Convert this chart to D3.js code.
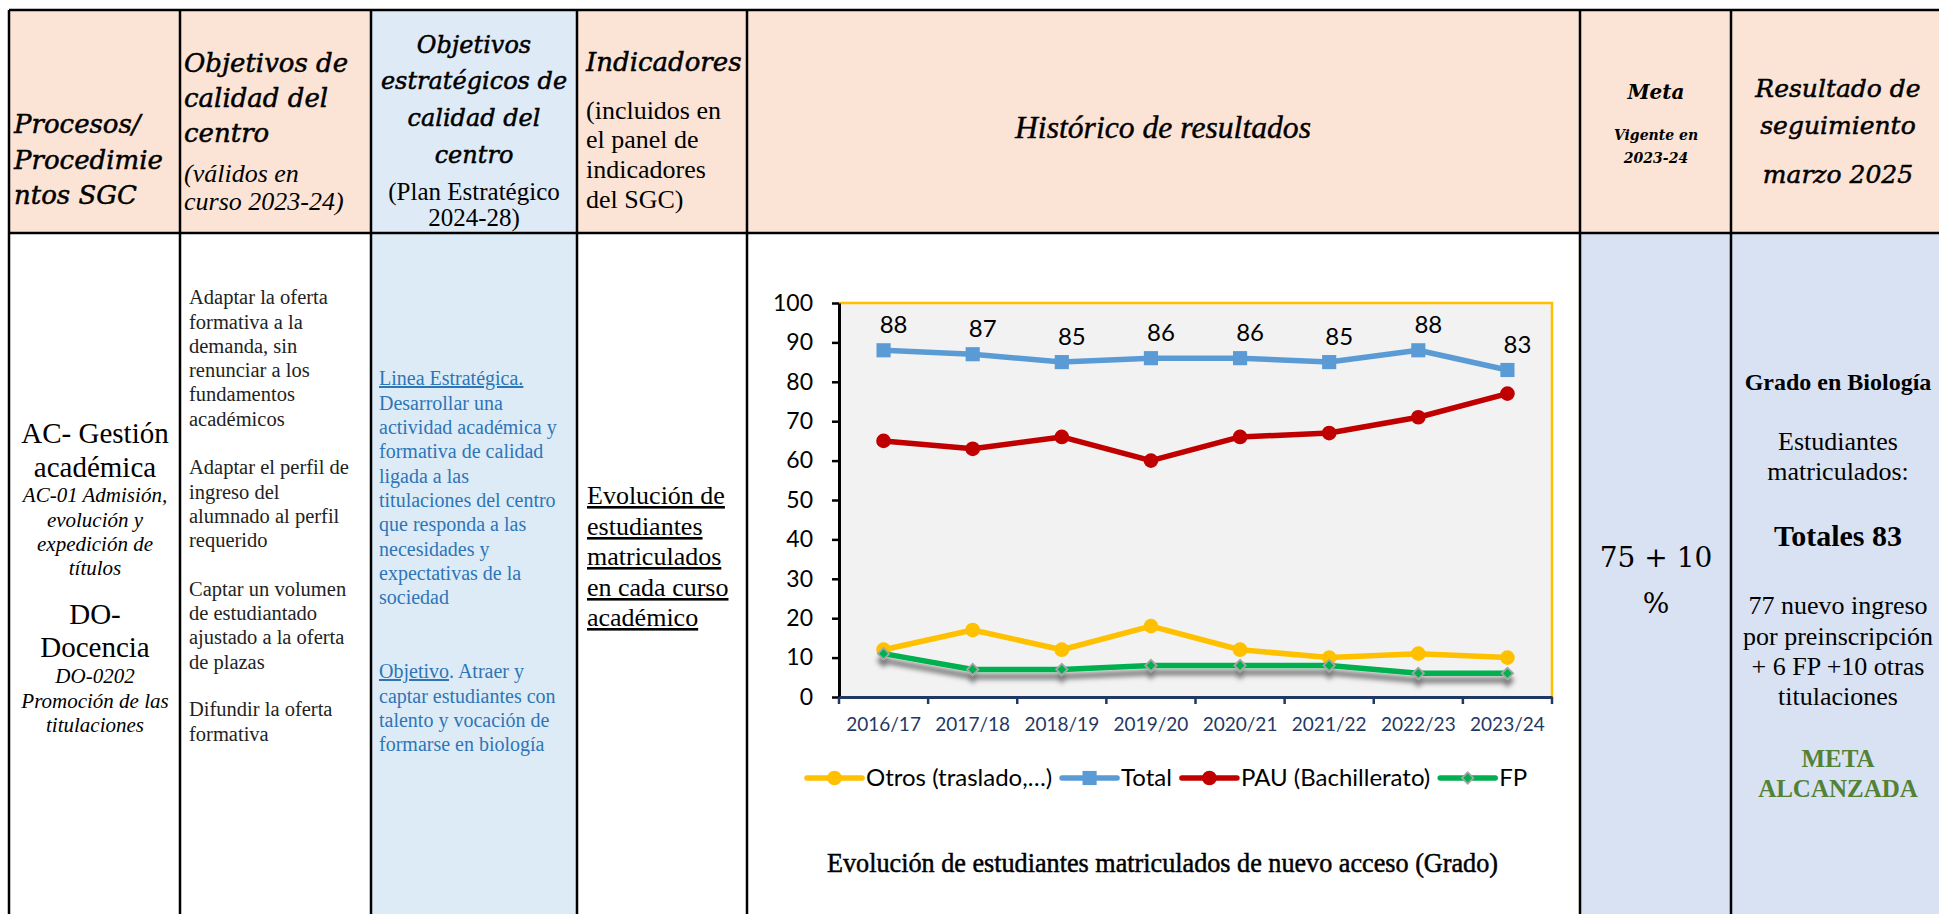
<!DOCTYPE html>
<meta charset="utf-8">
<style>
  body { margin: 0; background: #fff; }
  svg { display: block; }
</style>
<script src="https://cdn.jsdelivr.net/npm/d3@7"></script>
<div id="sheet"></div>
<script>

// ---- chart data ----
var years = ["2016/17", "2017/18", "2018/19", "2019/20", "2020/21", "2021/22", "2022/23", "2023/24"];
var otros = [12, 17, 12, 18, 12, 10, 11, 10];
var total = [88, 87, 85, 86, 86, 85, 88, 83];
var pau   = [65, 63, 66, 60, 66, 67, 71, 77];
var fp    = [11, 7, 7, 8, 8, 8, 6, 6];
var yTicks = [0, 10, 20, 30, 40, 50, 60, 70, 80, 90, 100];
var seriesNames = ["Otros (traslado,…)", "Total", "PAU (Bachillerato)", "FP"];

// fonts
var GAR = "'Liberation Serif', 'Times New Roman', serif";
var BOOK = "'DejaVu Serif', serif";
var CAL = "Lato, 'Noto Sans', sans-serif";

var W = 1939, H = 914;
var svg = d3.select("#sheet").append("svg")
    .attr("width", W)
    .attr("height", H);

// ---- table cells (fills first, border lines drawn last) ----
var colX = [9, 180, 371, 577, 747, 1580, 1731, 1939];
var topY = 10, headY = 233;
var peach = "#FBE4D5";
var headFill = [peach, peach, "#DEEAF6", peach, peach, peach, peach];
var bodyFill = ["#fff", "#fff", "#DDEBF7", "#fff", "#fff", "#D9E2F3", "#D9E2F3"];

var fills = svg.append("g");
d3.range(7).forEach(function(i) {
  fills.append("rect")
      .attr("x", colX[i]).attr("y", topY)
      .attr("width", colX[i + 1] - colX[i]).attr("height", headY - topY)
      .attr("fill", headFill[i]);
  fills.append("rect")
      .attr("x", colX[i]).attr("y", headY)
      .attr("width", colX[i + 1] - colX[i]).attr("height", H - headY)
      .attr("fill", bodyFill[i]);
});

// little helper for a line of text
function put(x, y, str, o) {
  o = o || {};
  var t = svg.append("text")
      .attr("x", x).attr("y", y)
      .attr("font-family", o.font || GAR)
      .attr("font-size", o.size || 20)
      .attr("font-style", o.italic ? "italic" : "normal")
      .attr("font-weight", o.bold ? "bold" : "normal")
      .attr("text-anchor", o.anchor || "start")
      .attr("fill", o.fill || "#000")
      .text(str);
  if (o.ul) t.style("text-decoration", "underline");
  if (o.len) t.attr("textLength", o.len).attr("lengthAdjust", "spacingAndGlyphs");
  if (o.stroke) t.attr("stroke", o.fill || "#000").attr("stroke-width", o.stroke);
  return t;
}
function block(x, ys, strs, o) {
  strs.forEach(function(s, i) { put(x, ys[i], s, o); });
}

// ---- header row ----
var hBig = {font: BOOK, italic: true, size: 26, stroke: 0.5};
block(14, [133, 169, 204], ["Procesos/", "Procedimie", "ntos SGC"], hBig);

block(184, [72, 107, 142], ["Objetivos de", "calidad del", "centro"], hBig);
block(184, [182, 210], ["(válidos en", "curso 2023-24)"], {italic: true, size: 26});

block(474, [53, 89, 126, 163], ["Objetivos", "estratégicos de", "calidad del", "centro"],
      {font: BOOK, italic: true, size: 24, anchor: "middle", stroke: 0.5});
block(474, [200, 226], ["(Plan Estratégico", "2024-28)"], {size: 25, anchor: "middle"});

put(586, 71, "Indicadores", hBig);
block(586, [119, 148, 178, 208], ["(incluidos en", "el panel de", "indicadores", "del SGC)"], {size: 26});

put(1163, 138, "Histórico de resultados", {italic: true, size: 31, anchor: "middle", len: 296, stroke: 0.4});

put(1656, 99, "Meta", {font: BOOK, italic: true, bold: true, size: 20, anchor: "middle"});
block(1656, [140, 163], ["Vigente en", "2023-24"], {font: BOOK, italic: true, bold: true, size: 14, anchor: "middle"});

block(1838, [97, 134, 183], ["Resultado de", "seguimiento", "marzo 2025"],
      {font: BOOK, italic: true, size: 25, anchor: "middle", stroke: 0.5});

// ---- body row ----
block(95, [443, 477], ["AC- Gestión", "académica"], {size: 29, anchor: "middle"});
block(95, [502, 527, 551, 575], ["AC-01 Admisión,", "evolución y", "expedición de", "títulos"],
      {italic: true, size: 21, anchor: "middle"});
block(95, [624, 657], ["DO-", "Docencia"], {size: 29, anchor: "middle"});
block(95, [683, 708, 732], ["DO-0202", "Promoción de las", "titulaciones"],
      {italic: true, size: 21, anchor: "middle"});

block(189,
  [304, 329, 353, 377, 401, 426, 474, 499, 523, 547, 596, 620, 644, 669, 716, 741],
  ["Adaptar la oferta", "formativa a la", "demanda, sin", "renunciar a los", "fundamentos",
   "académicos", "Adaptar el perfil de", "ingreso del", "alumnado al perfil", "requerido",
   "Captar un volumen", "de estudiantado", "ajustado a la oferta", "de plazas",
   "Difundir la oferta", "formativa"],
  {size: 20.5, fill: "#222"});

var blue = "#2E75B6";
put(379, 385, "Linea Estratégica.", {size: 20, fill: blue, ul: true});
block(379, [410, 434, 458, 483, 507, 531, 556, 580, 604],
  ["Desarrollar una", "actividad académica y", "formativa de calidad", "ligada a las",
   "titulaciones del centro", "que responda a las", "necesidades y", "expectativas de la", "sociedad"],
  {size: 20, fill: blue});
var obj = put(379, 678, "", {size: 20, fill: blue});
obj.append("tspan").style("text-decoration", "underline").text("Objetivo");
obj.append("tspan").text(". Atraer y");
block(379, [703, 727, 751], ["captar estudiantes con", "talento y vocación de", "formarse en biología"],
  {size: 20, fill: blue});

block(587, [504, 535, 565, 596, 626],
  ["Evolución de", "estudiantes", "matriculados", "en cada curso", "académico"],
  {size: 26, ul: true});

block(1656, [567, 613], ["75 + 10", "%"], {font: BOOK, size: 28, anchor: "middle"});

put(1838, 390, "Grado en Biología", {bold: true, size: 24, anchor: "middle"});
block(1838, [450, 480], ["Estudiantes", "matriculados:"], {size: 26, anchor: "middle"});
put(1838, 546, "Totales 83", {bold: true, size: 30, anchor: "middle"});
block(1838, [614, 645, 675, 705],
  ["77 nuevo ingreso", "por preinscripción", "+ 6 FP +10 otras", "titulaciones"],
  {size: 26, anchor: "middle"});
block(1838, [767, 797], ["META", "ALCANZADA"], {bold: true, size: 25, anchor: "middle", fill: "#538135"});

// ---- line chart inside "Histórico de resultados" ----
var x = d3.scaleBand().domain(years).range([839, 1552]);
var y = d3.scaleLinear().domain([0, 100]).range([697, 303]);
var cx = function(i) { return x(years[i]) + x.bandwidth() / 2; };

var defs = svg.append("defs");
defs.append("filter").attr("id", "shadow")
    .attr("x", "-10%").attr("y", "-100%").attr("width", "120%").attr("height", "400%")
  .append("feDropShadow")
    .attr("dx", 0).attr("dy", 7).attr("stdDeviation", 2.5)
    .attr("flood-color", "#000").attr("flood-opacity", 0.5);

var chart = svg.append("g");

// plot area
chart.append("rect")
    .attr("x", x.range()[0]).attr("y", y(100))
    .attr("width", x.range()[1] - x.range()[0]).attr("height", y(0) - y(100))
    .attr("fill", "#F2F2F2");
chart.append("path")
    .attr("d", "M" + x.range()[0] + "," + y(100) + "H" + x.range()[1] + "V" + y(0))
    .attr("fill", "none").attr("stroke", "#FFC000").attr("stroke-width", 2.5);

// Y axis
var yAxis = chart.append("g")
    .attr("transform", "translate(" + x.range()[0] + ",0)")
    .call(d3.axisLeft(y).tickValues(yTicks).tickSize(7).tickPadding(19).tickSizeOuter(0));
yAxis.select(".domain").attr("stroke", "#000").attr("stroke-width", 3);
yAxis.selectAll(".tick line").attr("stroke", "#000").attr("stroke-width", 2.5);
yAxis.selectAll("text").attr("font-family", CAL).attr("font-size", 23).attr("fill", "#000");

// X axis (ticks sit on the category edges)
var navy = "#1F3864";
var xAxis = chart.append("g")
    .attr("transform", "translate(0," + y(0) + ")")
    .call(d3.axisBottom(x).tickSize(0).tickPadding(21).tickSizeOuter(0));
xAxis.select(".domain").attr("stroke", navy).attr("stroke-width", 3);
xAxis.selectAll("text").attr("font-family", CAL).attr("font-size", 19).attr("fill", navy);
xAxis.selectAll(".edge")
  .data(years.map(function(d) { return x(d); }).concat([x.range()[1]]))
  .join("line")
    .attr("class", "edge")
    .attr("x1", function(d) { return d; }).attr("x2", function(d) { return d; })
    .attr("y1", 0).attr("y2", 7)
    .attr("stroke", navy).attr("stroke-width", 2.5);

// series
var series = [
  {name: seriesNames[0], values: otros, color: "#FFC000", marker: "circle"},
  {name: seriesNames[1], values: total, color: "#5B9BD5", marker: "square"},
  {name: seriesNames[2], values: pau,   color: "#C00000", marker: "circle"},
  {name: seriesNames[3], values: fp,    color: "#00B050", marker: "diamond"}
];

function markerPath(kind) {
  if (kind === "square") return d3.symbol(d3.symbolSquare, 200)();
  if (kind === "diamond") return d3.symbol(d3.symbolSquare, 64)();
  return d3.symbol(d3.symbolCircle, 170)();
}
function drawMarker(g, kind, color, px, py) {
  g.append("path")
      .attr("d", markerPath(kind))
      .attr("transform", "translate(" + px + "," + py + ")" + (kind === "diamond" ? " rotate(45)" : ""))
      .attr("fill", color)
      .attr("stroke", kind === "diamond" ? "#A5A5A5" : "none")
      .attr("stroke-width", 1.8);
}

var line = d3.line()
    .x(function(v, i) { return cx(i); })
    .y(function(v) { return y(v); });

series.forEach(function(s) {
  var g = chart.append("g");
  if (s.marker === "diamond") g.attr("filter", "url(#shadow)");
  g.append("path")
      .attr("d", line(s.values))
      .attr("fill", "none")
      .attr("stroke", s.color)
      .attr("stroke-width", 5.5)
      .attr("stroke-linejoin", "round");
  s.values.forEach(function(v, i) { drawMarker(g, s.marker, s.color, cx(i), y(v)); });
});

// data labels on the Total series
chart.selectAll(".lbl")
  .data(total)
  .join("text")
    .attr("class", "lbl")
    .attr("x", function(v, i) { return cx(i) + 10; })
    .attr("y", function(v) { return y(v) - 17; })
    .attr("text-anchor", "middle")
    .attr("font-family", CAL).attr("font-size", 24)
    .text(function(v) { return v; });

// legend
var legY = 778, lx = 807;
series.forEach(function(s) {
  var g = chart.append("g");
  g.append("line")
      .attr("x1", lx).attr("x2", lx + 55).attr("y1", legY).attr("y2", legY)
      .attr("stroke", s.color).attr("stroke-width", 5.5).attr("stroke-linecap", "round");
  drawMarker(g, s.marker, s.color, lx + 27.5, legY);
  var t = g.append("text")
      .attr("x", lx + 59).attr("y", legY + 8)
      .attr("font-family", CAL).attr("font-size", 24)
      .text(s.name);
  lx += 59 + t.node().getComputedTextLength() + 10;
});

// caption under the chart
put(827, 872, "Evolución de estudiantes matriculados de nuevo acceso (Grado)",
    {size: 27, len: 671, stroke: 0.5});

// ---- cell borders on top ----
var borders = svg.append("g")
    .attr("stroke", "#000")
    .attr("stroke-width", 2.5);
borders.append("line").attr("x1", colX[0]).attr("x2", W).attr("y1", topY).attr("y2", topY);
borders.append("line").attr("x1", colX[0]).attr("x2", W).attr("y1", headY).attr("y2", headY);
colX.slice(0, 7).forEach(function(v) {
  borders.append("line").attr("x1", v).attr("x2", v).attr("y1", topY).attr("y2", H);
});
</script>
